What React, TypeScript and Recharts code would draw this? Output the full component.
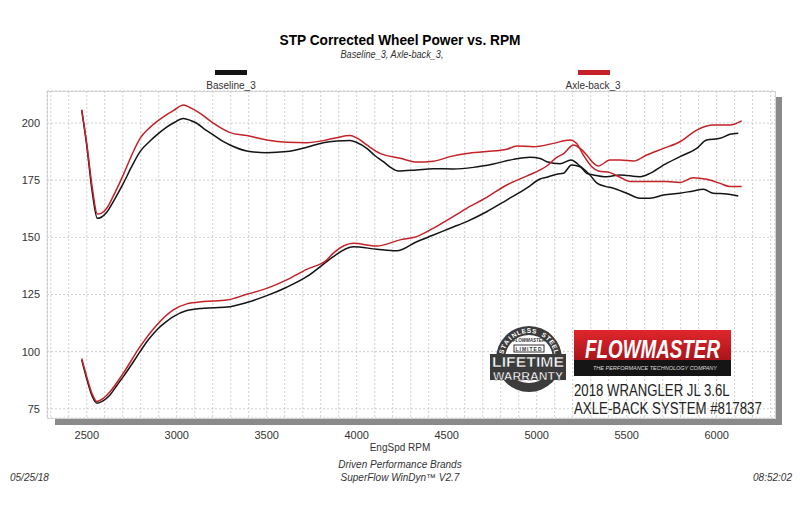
import React from 'react';
import { LineChart, Line, XAxis, YAxis, CartesianGrid } from 'recharts';

// EngSpd RPM / STP corrected wheel power
const baselineTorqueRpm = [
  2472, 2500, 2530, 2559, 2580, 2611, 2650, 2703, 2750, 2796, 2850, 2889, 2940, 2981, 3037, 3080, 3111, 3160,
  3203, 3250, 3296, 3389, 3500, 3611, 3722, 3814, 3889, 3963, 4000, 4056, 4100, 4148, 4190, 4231, 4333, 4426,
  4537, 4648, 4759, 4870, 4963, 5019, 5056, 5130, 5190, 5241, 5296, 5333, 5380, 5426, 5500, 5574, 5630, 5704,
  5796, 5870, 5926, 5981, 6056, 6120,
];
const baselineTorque = [
  205.5, 190, 170, 158.3, 158.8, 161, 166, 173.6, 181, 187.5, 192, 194.8, 198, 200, 202, 201, 199.9, 197,
  194.8, 192.3, 190.4, 187.8, 187, 187.5, 189.4, 191.4, 192.1, 192.3, 191.5, 188.9, 185.8, 183.1, 180.5, 179, 179.5, 180,
  179.9, 180.6, 182.1, 184.1, 185, 184.5, 183.1, 182.2, 183.8, 181.2, 177.3, 173.8, 172.3, 171.5, 169.3, 167.1, 167.1, 168.5,
  169.3, 170.3, 171, 169.3, 169, 168.1,
];

const axleTorqueRpm = [
  2472, 2500, 2530, 2559, 2580, 2611, 2650, 2703, 2750, 2796, 2850, 2889, 2940, 2981, 3037, 3080, 3130, 3203,
  3296, 3389, 3500, 3611, 3722, 3814, 3889, 3963, 4000, 4056, 4130, 4241, 4333, 4426, 4519, 4611, 4722, 4833,
  4889, 4981, 5093, 5185, 5222, 5259, 5306, 5343, 5407, 5463, 5519, 5611, 5722, 5796, 5870, 5944, 6019, 6074, 6139,
];
const axleTorque = [
  205.8, 191, 172, 160.2, 160.5, 162.7, 168.5, 177.3, 186, 193.3, 198, 200.6, 203.5, 205.4, 207.9, 206.5, 204.2, 199.9,
  195.8, 194.5, 192.6, 191.6, 191.4, 192.3, 193.6, 194.5, 193.5, 190.4, 186.7, 184.6, 182.9, 183.3, 185.3, 186.7, 187.5, 188.5,
  190, 189.6, 191.1, 192.6, 191, 186, 180.9, 179, 178.3, 176.3, 174.4, 174.4, 174.4, 174, 176.1, 175.4, 173.6, 172.2, 172.2,
];

const baselinePowerRpm = [
  2472, 2500, 2530, 2556, 2590, 2629, 2665, 2703, 2750, 2796, 2840, 2889, 2940, 2981, 3056, 3148, 3278, 3389,
  3500, 3611, 3722, 3833, 3870, 3981, 4111, 4222, 4333, 4426, 4519, 4611, 4722, 4833, 4944, 5019, 5056, 5111,
  5148, 5194, 5241, 5278, 5315, 5389, 5463, 5574, 5630, 5704, 5796, 5889, 5944, 6019, 6074, 6120,
];
const baselinePower = [
  96.4, 88, 80.5, 77.5, 78.5, 81.1, 85, 89.1, 94.5, 100, 105, 109.5, 113, 115.3, 118, 119, 119.5, 121.5,
  124.5, 128.2, 132.8, 139.4, 141.6, 145.9, 144.8, 144.1, 148.1, 151, 154, 156.9, 161.2, 166.3, 171.5, 175.5, 176.3, 177.6,
  178, 181.6, 180.9, 178, 177.3, 176.5, 177.3, 176.5, 178, 181.6, 185.3, 188.9, 192.6, 193.3, 195.1, 195.5,
];

const axlePowerRpm = [
  2472, 2500, 2530, 2556, 2590, 2629, 2703, 2796, 2889, 2981, 3056, 3148, 3278, 3389, 3500, 3611, 3722, 3833,
  3870, 3981, 4111, 4241, 4333, 4426, 4519, 4611, 4722, 4833, 4944, 5019, 5056, 5111, 5148, 5204, 5241, 5278,
  5315, 5343, 5407, 5463, 5537, 5611, 5704, 5796, 5889, 5981, 6074, 6139,
];
const axlePower = [
  97, 89, 81.5, 78.2, 79.5, 82.5, 90.6, 102.2, 111.7, 118.3, 120.9, 121.9, 122.6, 125.1, 127.7, 131.4, 136, 140.1,
  143.1, 147.4, 146.2, 148.9, 150.3, 154, 158.3, 162.7, 167.5, 172.9, 176.8, 179.5, 181.2, 185, 186.5, 190.4, 188.9, 186,
  182.5, 181.2, 183.8, 183.8, 183.4, 186, 188.9, 191.8, 196.9, 199.1, 199.1, 200.9,
];

const rpmGrid = [
  2300, 2400, 2500, 2600, 2700, 2800, 2900, 3000, 3100, 3200, 3300, 3400, 3500, 3600, 3700, 3800, 3900, 4000,
  4100, 4200, 4300, 4400, 4500, 4600, 4700, 4800, 4900, 5000, 5100, 5200, 5300, 5400, 5500, 5600, 5700, 5800,
  5900, 6000, 6100, 6200, 6300,
];
const rpmLabels = [2500, 3000, 3500, 4000, 4500, 5000, 5500, 6000];
const powerTicks = [75, 100, 125, 150, 175, 200];

const BLACK = '#141414';
const RED = '#c42128';

const pts = (rpm: number[], val: number[]) => rpm.map((r, i) => ({ rpm: r, value: val[i] }));

const font = "'Liberation Sans', Arial, sans-serif";

const RING_TEXT = 'STAINLESS STEEL';

function Badge() {
  const cx = 529;
  const cy = 359;
  const r = 28.5;
  const chars = RING_TEXT.split('');
  const span = 150;
  return (
    <g>
      <circle cx={cx} cy={cy} r={33} fill="#3c3c3c" />
      <circle cx={cx} cy={cy} r={24} fill="#fff" />
      {chars.map((c, i) => {
        const a = -span / 2 + (span * i) / (chars.length - 1);
        const rad = (a * Math.PI) / 180;
        const x = cx + r * Math.sin(rad);
        const y = cy - r * Math.cos(rad);
        return (
          <text key={i} x={x} y={y} fontSize={6.5} fontWeight="bold" fill="#fff" textAnchor="middle" dominantBaseline="central" transform={`rotate(${a} ${x} ${y})`}>
            {c}
          </text>
        );
      })}
      <text x={cx} y={342} textAnchor="middle" fontSize={4.5} fontStyle="italic" fontWeight="bold" fill="#333">FLOWMASTER</text>
      <rect x={514} y={345} width={30} height={7} fill="#fff" stroke="#333" strokeWidth={1} />
      <text x={cx} y={350.5} textAnchor="middle" fontSize={5} fontWeight="bold" fill="#333" letterSpacing={1}>LIMITED</text>
      <rect x={490} y={354} width={76} height={26} fill="#3c3c3c" />
      <text x={528} y={366.5} textAnchor="middle" fontSize={14} fontWeight="bold" fill="#fff" stroke="#222" strokeWidth={0.4} textLength={72} lengthAdjust="spacingAndGlyphs">LIFETIME</text>
      <text x={528} y={379.5} textAnchor="middle" fontSize={10.5} fontWeight="bold" fill="#fff" stroke="#222" strokeWidth={0.4} textLength={70} lengthAdjust="spacingAndGlyphs">WARRANTY</text>
    </g>
  );
}

function Decorations() {
  return (
    <svg width={800} height={512} style={{ position: 'absolute', left: 0, top: 0, pointerEvents: 'none' }} fontFamily={font}>
      <defs>
        <linearGradient id="fmRed" x1="0" y1="0" x2="0" y2="1">
          <stop offset="0%" stopColor="#e0262c" />
          <stop offset="100%" stopColor="#a8141a" />
        </linearGradient>
      </defs>

      <text x={400} y={45} textAnchor="middle" fontSize={14} fontWeight="bold" textLength={241} lengthAdjust="spacingAndGlyphs">
        STP Corrected Wheel Power vs. RPM
      </text>
      <text x={392} y={58} textAnchor="middle" fontSize={10} fontStyle="italic" fill="#333" textLength={103} lengthAdjust="spacingAndGlyphs">
        Baseline_3, Axle-back_3,
      </text>

      <rect x={215} y={70} width={32} height={5} fill={BLACK} />
      <text x={231} y={89} textAnchor="middle" fontSize={10} fill="#333">Baseline_3</text>
      <rect x={578} y={70} width={32} height={5} fill={RED} />
      <text x={593} y={89} textAnchor="middle" fontSize={10} fill="#333">Axle-back_3</text>

      <text x={400} y={451} textAnchor="middle" fontSize={10} fill="#333">EngSpd  RPM</text>
      <text x={400} y={468} textAnchor="middle" fontSize={10} fontStyle="italic" fill="#333">Driven Performance Brands</text>
      <text x={400} y={481} textAnchor="middle" fontSize={10} fontStyle="italic" fill="#333">SuperFlow WinDyn™  V2.7</text>
      <text x={10} y={481} fontSize={10} fontStyle="italic" fill="#333">05/25/18</text>
      <text x={792} y={481} textAnchor="end" fontSize={10} fontStyle="italic" fill="#333">08:52:02</text>

      <Badge />

      {/* flowmaster logo */}
      <rect x={574} y={330} width={157} height={31} fill="url(#fmRed)" />
      <rect x={574} y={360} width={157} height={16} fill="#151515" />
      <text x={585} y={358} fontSize={26} fontWeight="bold" fontStyle="italic" fill="#fff" textLength={135} lengthAdjust="spacingAndGlyphs">FLOWMASTER</text>
      <text x={593} y={370} fontSize={5.5} fontStyle="italic" fill="#ddd" textLength={124} lengthAdjust="spacingAndGlyphs">THE PERFORMANCE TECHNOLOGY COMPANY</text>
      <g transform="translate(574 396) scale(0.776 1)">
        <text x={0} y={0} fontSize={17} fill="#222">2018 WRANGLER JL 3.6L</text>
      </g>
      <g transform="translate(574 414) scale(0.78 1)">
        <text x={0} y={0} fontSize={17} fill="#222">AXLE-BACK SYSTEM #817837</text>
      </g>
    </svg>
  );
}

export default function App() {
  return (
    <div style={{ position: 'absolute', left: 0, top: 0, width: 800, height: 512, background: '#fff', fontFamily: font }}>
      {/* plot frame and drop shadow */}
      <div style={{ position: 'absolute', left: 776, top: 97, width: 6, height: 328, background: '#8a8a8a' }} />
      <div style={{ position: 'absolute', left: 55, top: 419, width: 727, height: 6, background: '#8a8a8a' }} />
      <div style={{ position: 'absolute', left: 47, top: 91, width: 729, height: 328, boxSizing: 'border-box', border: '1px solid #d6d6d6', background: '#fff' }} />

      <div style={{ position: 'absolute', left: 0, top: 0 }}>
        <LineChart width={800} height={512} margin={{ top: 91, right: 25, bottom: 64, left: 17 }}>
          <CartesianGrid stroke="#cdcdcd" strokeDasharray="2 2" />
          <XAxis
            type="number"
            dataKey="rpm"
            domain={[2279, 6324]}
            allowDataOverflow
            ticks={rpmGrid}
            interval={0}
            tickFormatter={(v: number) => (rpmLabels.includes(v) ? String(v) : '')}
            tickLine={false}
            axisLine={false}
            tickSize={0}
            tickMargin={13}
            height={30}
            tick={{ fontSize: 11, fill: '#333' }}
          />
          <YAxis
            type="number"
            domain={[71, 214]}
            allowDataOverflow
            ticks={powerTicks}
            interval={0}
            tickLine={false}
            axisLine={false}
            tickSize={0}
            tickMargin={7}
            width={30}
            tick={{ fontSize: 11, fill: '#333' }}
          />
          <Line data={pts(baselineTorqueRpm, baselineTorque)} dataKey="value" type="monotone" stroke={BLACK} strokeWidth={1.5} dot={false} isAnimationActive={false} />
          <Line data={pts(baselinePowerRpm, baselinePower)} dataKey="value" type="monotone" stroke={BLACK} strokeWidth={1.5} dot={false} isAnimationActive={false} />
          <Line data={pts(axleTorqueRpm, axleTorque)} dataKey="value" type="monotone" stroke={RED} strokeWidth={1.5} dot={false} isAnimationActive={false} />
          <Line data={pts(axlePowerRpm, axlePower)} dataKey="value" type="monotone" stroke={RED} strokeWidth={1.5} dot={false} isAnimationActive={false} />
        </LineChart>
      </div>

      <Decorations />
    </div>
  );
}
